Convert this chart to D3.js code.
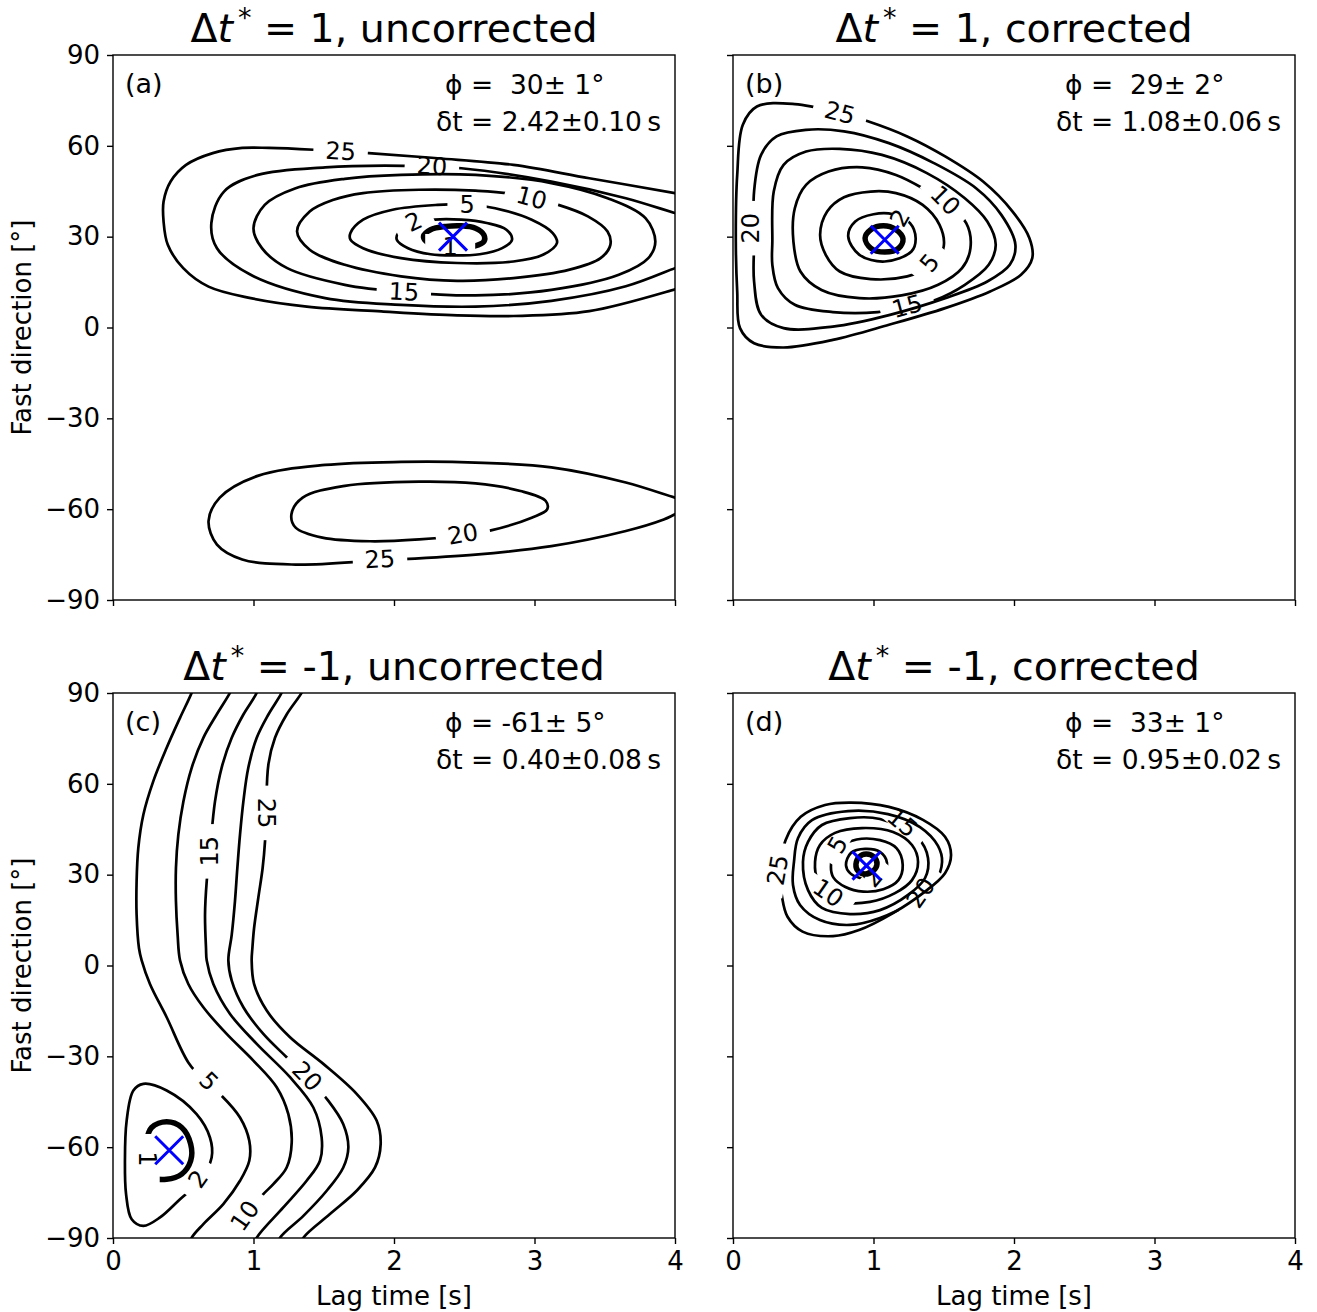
<!DOCTYPE html>
<html><head><meta charset="utf-8">
<script src="https://cdn.jsdelivr.net/npm/d3@7"></script>
<style>
body{margin:0;background:#fff}
text{font-family:"DejaVu Sans",sans-serif;fill:#000}
</style>
</head><body>
<svg id="fig" width="1317" height="1312"></svg>
<script>
// ---- axes ----
const lagDomain = [0, 4];
const phiDomain = [-90, 90];
const lagTicks = [0, 1, 2, 3, 4];
const phiTicks = [-90, -60, -30, 0, 30, 60, 90];

// ---- panel annotations ----
const dtStar = ["1", "1", "-1", "-1"];
const corrState = ["uncorrected", "corrected", "uncorrected", "corrected"];
const panelTags = ["(a)", "(b)", "(c)", "(d)"];
const phiBest = [30, 29, -61, 33];
const phiErr = [1, 2, 5, 1];
const dtBest = [2.42, 1.08, 0.40, 0.95];
const dtErr = [0.10, 0.06, 0.08, 0.02];

// ---- contour lines: [lag time (s), fast direction (deg)] ----
// panel (a)
const a1 = [[2.21,30.1],[2.26,32.3],[2.37,33.4],[2.48,33.6],[2.58,32.8],[2.64,30.6],[2.64,28.4],[2.57,26.8],[2.45,26.0],[2.31,26.8],[2.23,28.4]];
const a2 = [[2.02,29.0],[2.10,26.2],[2.26,24.2],[2.42,23.8],[2.61,24.2],[2.77,26.2],[2.84,29.0],[2.80,32.3],[2.66,34.5],[2.48,35.6],[2.29,35.6],[2.13,33.9],[2.03,31.2]];
const a5 = [[1.69,31.2],[1.78,35.6],[1.99,38.9],[2.31,40.5],[2.52,40.7],[2.72,39.4],[2.98,35.6],[3.13,31.2],[3.16,27.9],[3.06,24.0],[2.85,21.8],[2.45,21.3],[2.05,22.9],[1.78,26.2],[1.69,29.0]];
const a10 = [[1.31,31.7],[1.40,38.3],[1.57,42.2],[1.78,44.4],[2.18,45.5],[2.58,45.2],[2.85,44.1],[3.17,40.5],[3.38,36.7],[3.52,31.7],[3.54,27.3],[3.47,22.9],[3.25,19.1],[2.85,16.3],[2.45,15.4],[2.05,16.9],[1.65,20.7],[1.40,25.7]];
const a15 = [[1.00,32.8],[1.08,40.5],[1.30,46.0],[1.65,49.1],[2.05,50.4],[2.58,50.4],[3.12,47.7],[3.52,42.7],[3.79,36.1],[3.86,28.4],[3.81,22.9],[3.60,17.4],[3.12,12.4],[2.58,10.6],[2.07,11.7],[1.65,14.1],[1.24,19.6],[1.06,26.2]];
const a20 = [[4.05,37.2],[4.0,37.8],[3.65,42.7],[3.12,48.2],[2.48,52.6],[2.07,53.4],[1.51,52.9],[1.03,50.4],[0.79,44.9],[0.70,34.5],[0.74,26.2],[0.98,17.4],[1.51,9.7],[2.05,7.5],[2.58,6.9],[3.12,8.8],[3.65,13.6],[4.0,19.6],[4.05,20.4]];
const a25 = [[4.05,43.9],[4.0,44.4],[3.39,49.3],[2.85,53.7],[2.31,55.9],[1.82,57.6],[1.43,58.7],[1.11,59.3],[0.92,59.3],[0.71,57.6],[0.52,53.7],[0.41,48.2],[0.36,41.6],[0.36,35.0],[0.39,27.3],[0.50,19.6],[0.68,13.5],[0.98,9.7],[1.38,6.9],[1.91,5.3],[2.45,4.0],[2.85,3.8],[3.39,5.4],[4.0,12.6],[4.05,13.3]];
const a20s = [[1.27,-61.7],[1.35,-56.2],[1.65,-52.3],[2.18,-50.9],[2.58,-51.5],[2.90,-54.0],[3.08,-57.3],[3.09,-60.1],[2.98,-62.8],[2.69,-67.0],[2.45,-68.8],[2.18,-70.0],[1.83,-70.6],[1.49,-69.4],[1.30,-66.1]];
const a25s = [[4.05,-56.8],[4.0,-56.2],[3.65,-51.2],[3.12,-46.2],[2.58,-44.6],[2.05,-44.4],[1.51,-45.4],[1.03,-49.0],[0.76,-56.2],[0.68,-63.9],[0.74,-71.7],[0.92,-76.6],[1.30,-78.3],[1.90,-76.9],[2.58,-75.0],[3.12,-72.2],[3.65,-67.2],[3.92,-63.4],[4.0,-61.7],[4.05,-60.8]];

// panel (b)
const b1 = [[0.94,29.5],[0.98,32.3],[1.07,33.6],[1.16,32.3],[1.21,29.3],[1.18,26.2],[1.08,24.9],[0.98,26.2]];
const b2 = [[0.82,30.1],[0.87,35.0],[1.00,37.4],[1.14,37.4],[1.26,34.5],[1.30,29.5],[1.27,25.1],[1.08,21.8],[0.90,24.0]];
const b5 = [[0.62,30.6],[0.67,38.3],[0.79,43.0],[0.98,44.9],[1.16,44.4],[1.35,40.5],[1.47,33.9],[1.50,26.8],[1.43,20.7],[1.24,16.9],[0.98,16.0],[0.76,18.5],[0.66,24.0]];
const b10 = [[0.43,28.4],[0.44,39.4],[0.52,47.1],[0.68,51.5],[0.92,52.9],[1.16,50.4],[1.35,46.0],[1.51,41.0],[1.66,34.5],[1.69,26.2],[1.63,19.6],[1.46,14.1],[1.20,10.6],[0.90,9.7],[0.63,12.4],[0.48,18.5]];
const b15 = [[0.28,28.4],[0.29,44.9],[0.36,53.7],[0.52,58.1],[0.76,59.0],[1.06,57.0],[1.38,51.0],[1.65,42.7],[1.81,35.0],[1.87,27.3],[1.82,20.7],[1.65,14.1],[1.44,9.1],[1.24,6.9],[1.03,5.1],[0.71,5.1],[0.44,7.5],[0.32,13.0],[0.28,20.7]];
const b20 = [[0.15,44.9],[0.20,57.0],[0.31,63.1],[0.52,65.3],[0.79,64.8],[1.11,60.9],[1.43,54.3],[1.73,46.0],[1.91,37.2],[2.01,27.3],[1.97,20.7],[1.81,15.2],[1.51,9.7],[1.11,4.1],[0.71,0.3],[0.36,-0.2],[0.20,4.2],[0.15,15.2],[0.15,28.4]];
const b25 = [[0.03,50.4],[0.07,67.0],[0.17,73.0],[0.44,73.8],[0.76,70.8],[0.96,68.1],[1.24,63.1],[1.51,56.5],[1.78,48.2],[1.99,38.3],[2.11,29.5],[2.13,22.9],[2.05,17.4],[1.83,11.9],[1.51,6.4],[1.11,0.9],[0.71,-4.1],[0.36,-6.6],[0.15,-5.2],[0.05,-0.2],[0.03,11.9],[0.02,28.4]];

// panel (c)
const c1 = [[0.275,-53.5],[0.382,-51.6],[0.489,-53.5],[0.553,-59.0],[0.553,-64.5],[0.489,-68.9],[0.382,-70.6],[0.287,-70.0],[0.228,-64.5],[0.235,-58.4]];
const c2 = [[0.145,-41.3],[0.216,-39.1],[0.382,-41.3],[0.595,-49.1],[0.690,-56.8],[0.702,-63.4],[0.620,-71.0],[0.477,-77.2],[0.335,-83.2],[0.216,-86.0],[0.133,-83.8],[0.093,-75.5],[0.085,-64.5],[0.097,-51.3]];
const c5 = [[0.58,93],[0.560,90.1],[0.477,81.8],[0.382,71.9],[0.287,60.9],[0.216,49.8],[0.180,38.8],[0.168,27.8],[0.168,16.8],[0.185,5.7],[0.204,1.7],[0.263,-6.1],[0.382,-17.1],[0.536,-32.0],[0.66,-38.5],[0.773,-43.0],[0.904,-50.2],[0.970,-57.9],[0.970,-64.5],[0.904,-71.1],[0.785,-78.8],[0.643,-85.4],[0.560,-89.9],[0.54,-93]];
const c10 = [[0.86,93],[0.833,90.1],[0.738,82.9],[0.643,75.2],[0.560,65.3],[0.501,54.2],[0.465,43.2],[0.448,32.2],[0.448,21.2],[0.460,10.1],[0.477,1.7],[0.536,-6.1],[0.643,-13.8],[0.809,-22.6],[0.999,-31.4],[1.165,-40.2],[1.248,-49.1],[1.272,-58.4],[1.236,-66.7],[1.141,-72.2],[1.070,-75.5],[0.94,-82.7],[0.868,-89.9],[0.85,-93]];
const c15 = [[1.04,93],[1.023,90.1],[0.928,82.9],[0.845,75.2],[0.773,65.3],[0.726,54.2],[0.69,38.0],[0.667,27.8],[0.655,16.8],[0.662,5.7],[0.667,1.7],[0.714,-6.1],[0.833,-16.0],[1.023,-25.9],[1.260,-36.9],[1.426,-46.9],[1.485,-56.8],[1.473,-64.5],[1.378,-71.1],[1.212,-79.9],[1.023,-89.9],[1.00,-93]];
const c20 = [[1.22,93],[1.200,90.1],[1.106,82.9],[1.023,75.2],[0.963,65.3],[0.928,54.2],[0.904,43.2],[0.885,32.2],[0.868,21.2],[0.845,10.1],[0.821,1.7],[0.845,-5.0],[0.928,-13.8],[1.070,-22.6],[1.236,-30.3],[1.38,-36.8],[1.533,-44.7],[1.639,-52.4],[1.675,-60.1],[1.639,-66.7],[1.521,-74.4],[1.355,-82.7],[1.189,-89.9],[1.17,-93]];
const c25 = [[1.37,93],[1.343,90.1],[1.236,82.9],[1.153,75.2],[1.106,66.4],[1.09,51.0],[1.082,41.0],[1.065,32.2],[1.034,22.3],[1.004,12.3],[0.992,5.7],[0.987,1.7],[1.004,-6.1],[1.094,-14.9],[1.260,-23.7],[1.497,-32.5],[1.734,-42.4],[1.877,-51.3],[1.905,-59.0],[1.865,-66.7],[1.734,-74.4],[1.544,-82.1],[1.355,-89.9],[1.33,-93]];

// panel (d)
const d1 = [[0.875,33.5],[0.897,35.8],[0.947,36.8],[1.004,35.8],[1.025,33.5],[0.996,31.2],[0.940,30.2],[0.890,31.2]];
const d2 = [[0.804,33.2],[0.840,37.2],[0.940,38.5],[1.046,37.5],[1.096,33.9],[1.068,30.2],[0.989,28.6],[0.904,28.9],[0.833,30.5]];
const d5 = [[0.697,32.6],[0.726,38.1],[0.880,41.6],[1.046,41.4],[1.165,38.7],[1.208,33.2],[1.177,28.2],[1.070,25.2],[0.928,24.4],[0.797,26.0],[0.714,29.1]];
const d10 = [[0.584,34.2],[0.619,39.8],[0.726,43.8],[0.918,45.4],[1.139,44.1],[1.274,39.8],[1.317,34.2],[1.274,28.2],[1.153,23.9],[0.975,21.0],[0.797,21.0],[0.605,28.2]];
const d15 = [[0.498,34.2],[0.534,40.8],[0.633,46.4],[0.833,48.7],[1.046,48.4],[1.317,42.1],[1.388,35.5],[1.367,28.9],[1.246,23.3],[1.046,18.3],[0.833,17.0],[0.633,19.0],[0.534,24.9]];
const d20 = [[0.434,34.2],[0.463,42.1],[0.562,48.0],[0.819,51.0],[1.103,50.0],[1.331,45.7],[1.459,39.5],[1.488,34.2],[1.438,27.6],[1.260,20.6],[1.046,15.7],[0.833,13.4],[0.619,15.0],[0.477,20.0],[0.427,26.6]];
const d25 = [[0.374,41.4],[0.482,49.1],[0.655,53.0],[0.840,53.8],[1.110,52.4],[1.352,48.1],[1.509,42.5],[1.552,36.5],[1.509,30.5],[1.352,23.9],[1.139,17.3],[0.897,11.7],[0.712,9.7],[0.495,11.2],[0.388,16.1],[0.349,22.7],[0.335,31.6]];

// contour labels: [level, lag, direction, text angle]
const aLabels = [[1,2.40,26.6,0],[2,2.14,34.8,-25],[5,2.52,40.6,0],[10,2.98,42.7,15],[15,2.07,11.7,3],[20,2.27,53.2,3],[25,1.62,58.1,3],[20,2.49,-68.3,-10],[25,1.90,-76.6,-3]];
const bLabels = [[2,1.19,36.1,-60],[5,1.40,21.3,-50],[10,1.51,41.9,45],[15,1.24,6.9,-15],[20,0.13,32.8,-90],[25,0.76,70.8,15]];
const cLabels = [[1,0.24,-63.9,90],[2,0.607,-70.6,-55],[5,0.68,-38.3,45],[10,0.94,-82.7,-55],[15,0.69,37.7,-90],[20,1.38,-36.6,46],[25,1.09,50.4,90]];
const dLabels = [[2,0.996,28.9,-50],[5,0.747,39.8,-60],[10,0.676,23.9,35],[15,1.203,47.1,40],[20,1.338,24.0,-55],[25,0.32,31.5,-80]];

// [level, points, closed]
const panelContours = [
  [[25,a25,false],[20,a20,false],[15,a15,true],[10,a10,true],[5,a5,true],[2,a2,true],[1,a1,true],[20,a20s,true],[25,a25s,false]],
  [[25,b25,true],[20,b20,true],[15,b15,true],[10,b10,true],[5,b5,true],[2,b2,true],[1,b1,true]],
  [[25,c25,false],[20,c20,false],[15,c15,false],[10,c10,false],[5,c5,false],[2,c2,true],[1,c1,true]],
  [[25,d25,true],[20,d20,true],[15,d15,true],[10,d10,true],[5,d5,true],[2,d2,true],[1,d1,true]]
];
const panelLabels = [aLabels, bLabels, cLabels, dLabels];

// ---- layout ----
const W = 562, H = 545;
const origins = [[113, 55], [733, 55], [113, 693], [733, 693]];
const labelSize = 24;

const svg = d3.select("#fig");
const defs = svg.append("defs");
const x = d3.scaleLinear(lagDomain, [0, W]);
const y = d3.scaleLinear(phiDomain, [H, 0]);
const lineOpen = d3.line().x(d => x(d[0])).y(d => y(d[1])).curve(d3.curveCatmullRom.alpha(0.5));
const lineClosed = d3.line().x(d => x(d[0])).y(d => y(d[1])).curve(d3.curveCatmullRomClosed.alpha(0.5));

origins.forEach(([ox, oy], i) => {
  const g = svg.append("g").attr("transform", `translate(${ox},${oy})`);
  const bottomRow = i >= 2, leftCol = i % 2 === 0;

  defs.append("clipPath").attr("id", "clip" + i)
    .append("rect").attr("width", W).attr("height", H);
  const plot = g.append("g").attr("clip-path", `url(#clip${i})`);

  // each contour gets a mask that opens a gap where its labels sit
  const labels = panelLabels[i];
  panelContours[i].forEach(([lvl, pts, closed], k) => {
    const id = `mask${i}_${k}`;
    const m = defs.append("mask").attr("id", id).attr("maskUnits", "userSpaceOnUse")
      .attr("x", -20).attr("y", -20).attr("width", W + 40).attr("height", H + 40);
    m.append("rect").attr("x", -20).attr("y", -20).attr("width", W + 40).attr("height", H + 40).attr("fill", "#fff");
    labels.filter(l => l[0] === lvl).forEach(l => {
      const thick = lvl === 1;
      const w = thick ? 50 : String(l[0]).length * 0.636 * labelSize + 24;
      const h = thick ? 26 : 18;
      m.append("rect").attr("x", -w / 2).attr("y", -h / 2).attr("width", w).attr("height", h)
        .attr("transform", `translate(${x(l[1])},${y(l[2])}) rotate(${l[3]})`).attr("fill", "#000");
    });
    plot.append("path").datum(pts)
      .attr("d", closed ? lineClosed : lineOpen)
      .attr("fill", "none").attr("stroke", "#000")
      .attr("stroke-width", lvl === 1 ? 5.5 : 2.7)
      .attr("mask", `url(#${id})`);
  });

  plot.selectAll("text.clab").data(labels).join("text").attr("class", "clab")
    .attr("transform", d => `translate(${x(d[1])},${y(d[2])}) rotate(${d[3]})`)
    .attr("text-anchor", "middle").attr("dominant-baseline", "central")
    .style("font-size", labelSize + "px").text(d => d[0]);

  // best-fit marker
  const mx = x(dtBest[i]), my = y(phiBest[i]), s = 14;
  g.append("path").attr("d", `M${mx - s},${my - s}L${mx + s},${my + s}M${mx - s},${my + s}L${mx + s},${my - s}`)
    .attr("stroke", "#0000ff").attr("stroke-width", 3).attr("fill", "none");

  // frame
  g.append("rect").attr("width", W).attr("height", H).attr("fill", "none").attr("stroke", "#000").attr("stroke-width", 1.4);

  // axes
  const ax = g.append("g").attr("transform", `translate(0,${H})`)
    .call(d3.axisBottom(x).tickValues(lagTicks).tickSize(6).tickPadding(8)
      .tickFormat(bottomRow ? d3.format("d") : () => ""));
  const ay = g.append("g")
    .call(d3.axisLeft(y).tickValues(phiTicks).tickSize(6).tickPadding(7)
      .tickFormat(leftCol ? d3.format("d") : () => ""));
  [ax, ay].forEach(a => {
    a.select(".domain").remove();
    a.attr("font-family", null).attr("font-size", null);
    a.selectAll("line").attr("stroke", "#000").attr("stroke-width", 1.4);
    a.selectAll("text").style("font-size", "26px").attr("fill", "#000");
  });

  if (bottomRow) {
    g.append("text").attr("x", W / 2).attr("y", H + 67).attr("text-anchor", "middle")
      .style("font-size", "26px").text("Lag time [s]");
  }
  if (leftCol) {
    g.append("text").attr("transform", `translate(${22 - ox},${H / 2}) rotate(-90)`)
      .attr("text-anchor", "middle").attr("dominant-baseline", "central")
      .style("font-size", "26px").text("Fast direction [°]");
  }

  // title
  const t = g.append("text").attr("x", W / 2).attr("y", -13).attr("text-anchor", "middle").style("font-size", "39.5px");
  t.append("tspan").text("Δ");
  t.append("tspan").style("font-style", "italic").text("t");
  t.append("tspan").attr("dx", 5).attr("dy", -15).style("font-size", "27px").text("*");
  t.append("tspan").attr("dy", 15).style("white-space", "pre").text(` = ${dtStar[i]}, ${corrState[i]}`);

  // panel tag and fit result
  g.append("text").attr("x", 12).attr("y", 38).style("font-size", "27px").text(panelTags[i]);
  const phiStr = `ϕ = ${String(phiBest[i]).padStart(3, " ")}±${String(phiErr[i]).padStart(2, " ")}°`;
  g.append("text").attr("x", 332).attr("y", 38.5).style("font-size", "26.5px").style("white-space", "pre").text(phiStr);
  g.append("text").attr("x", 323).attr("y", 75.5).style("font-size", "26.5px").style("white-space", "pre")
    .text(`δt = ${dtBest[i].toFixed(2)}±${dtErr[i].toFixed(2)}\u2009s`);
});
</script>
</body></html>
